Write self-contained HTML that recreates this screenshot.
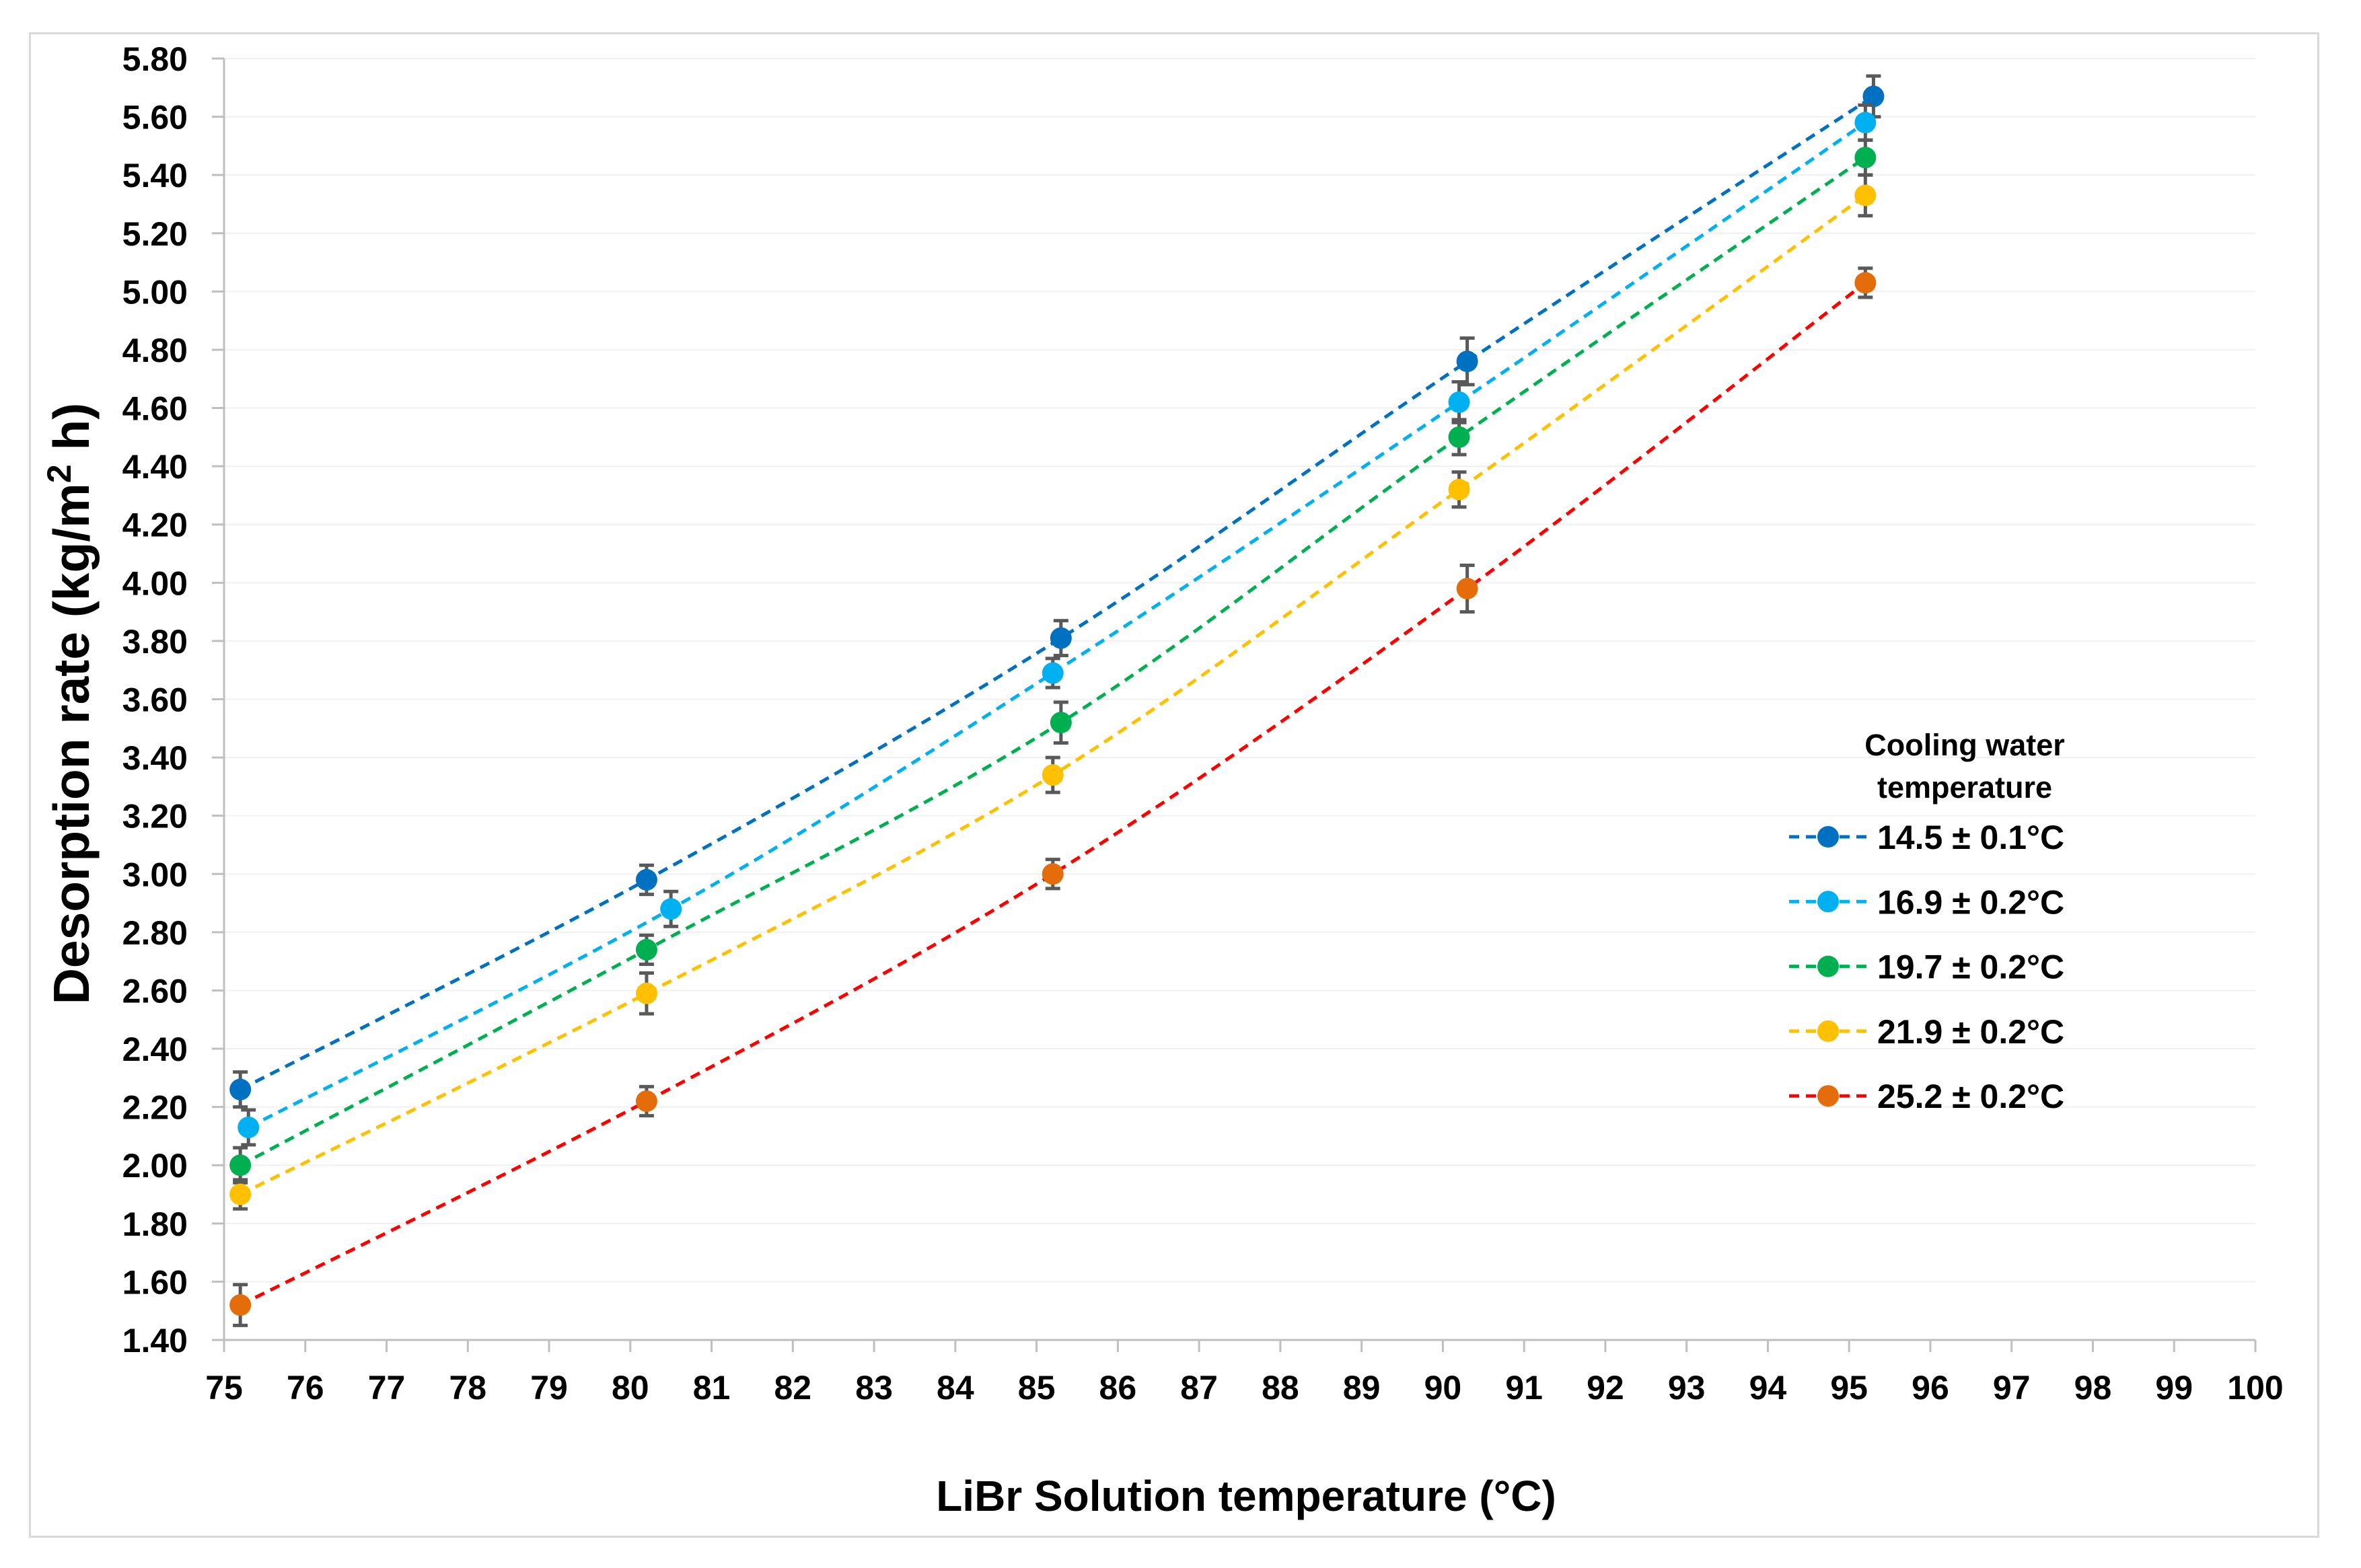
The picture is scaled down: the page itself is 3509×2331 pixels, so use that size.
<!DOCTYPE html>
<html><head><meta charset="utf-8"><style>
html,body{margin:0;padding:0;background:#fff;}
svg{display:block;font-family:"Liberation Sans",sans-serif;font-weight:bold;}
</style></head><body>
<svg id="chart" width="3509" height="2331" viewBox="0 0 3509 2331" xmlns="http://www.w3.org/2000/svg">
<rect x="44.5" y="49.5" width="3401" height="2235" fill="#fff" stroke="#d9d9d9" stroke-width="3"/>
<g id="grid"></g>
<g id="axes"></g>
<g id="series"></g>
<text transform="translate(132,1046) rotate(-90)" text-anchor="middle" font-size="75">Desorption rate (kg/m<tspan font-size="50" dy="-27">2</tspan><tspan dy="27"> h)</tspan></text>
<text x="1852" y="2246" text-anchor="middle" font-size="64">LiBr Solution temperature (°C)</text>
<g id="legend">
<text x="2920" y="1123" text-anchor="middle" font-size="45">Cooling water</text>
<text x="2920" y="1186" text-anchor="middle" font-size="45">temperature</text>
</g>
</svg>
<script>
const xTicks = [75,76,77,78,79,80,81,82,83,84,85,86,87,88,89,90,91,92,93,94,95,96,97,98,99,100];
const yTicks = [1.40,1.60,1.80,2.00,2.20,2.40,2.60,2.80,3.00,3.20,3.40,3.60,3.80,4.00,4.20,4.40,4.60,4.80,5.00,5.20,5.40,5.60,5.80];
const seriesNames = ["14.5 ± 0.1°C","16.9 ± 0.2°C","19.7 ± 0.2°C","21.9 ± 0.2°C","25.2 ± 0.2°C"];
const x1 = [75.2,80.2,85.3,90.3,95.3];
const y1 = [2.26,2.98,3.81,4.76,5.67];
const e1 = [0.06,0.05,0.06,0.08,0.07];
const x2 = [75.3,80.5,85.2,90.2,95.2];
const y2 = [2.13,2.88,3.69,4.62,5.58];
const e2 = [0.06,0.06,0.05,0.07,0.06];
const x3 = [75.2,80.2,85.3,90.2,95.2];
const y3 = [2.00,2.74,3.52,4.50,5.46];
const e3 = [0.06,0.05,0.07,0.06,0.06];
const x4 = [75.2,80.2,85.2,90.2,95.2];
const y4 = [1.90,2.59,3.34,4.32,5.33];
const e4 = [0.05,0.07,0.06,0.06,0.07];
const x5 = [75.2,80.2,85.2,90.3,95.2];
const y5 = [1.52,2.22,3.00,3.98,5.03];
const e5 = [0.07,0.05,0.05,0.08,0.05];
const lineColors = ["#0070C0","#00B0F0","#00B050","#FFC000","#FF0000"];
const markerColors = ["#0070C0","#00B0F0","#00B050","#FFC000","#E46C0A"];

const NS="http://www.w3.org/2000/svg";
const X0=333, X1=3352, Y0=1992, Y1=87;
const xs=v=>X0+(v-75)/25*(X1-X0);
const ys=v=>Y0-(v-1.4)/4.4*(Y0-Y1);
function mk(tag,attrs,parent){const e=document.createElementNS(NS,tag);for(const k in attrs)e.setAttribute(k,attrs[k]);parent.appendChild(e);return e;}
const grid=document.getElementById('grid'),axes=document.getElementById('axes'),ser=document.getElementById('series'),leg=document.getElementById('legend');
yTicks.forEach(t=>{
  const y=ys(t);
  if(t>1.41){const g=mk('line',{x1:X0,x2:X1,y1:y,y2:y,stroke:'#f0f0f0','stroke-width':2},grid);
  
  }
  const tk=mk('line',{x1:X0-18,x2:X0,y1:y,y2:y,stroke:'#bfbfbf','stroke-width':3},axes);
  
  
  const tx=mk('text',{x:279,y:y+18,'text-anchor':'end','font-size':50},axes);
  
  
  tx.textContent=t.toFixed(2);
});
xTicks.forEach(t=>{
  const x=xs(t);
  const tk=mk('line',{x1:x,x2:x,y1:Y0,y2:Y0+18,stroke:'#bfbfbf','stroke-width':3},axes);
  
  
  const tx=mk('text',{x:x,y:2080,'text-anchor':'middle','font-size':50},axes);
  
  
  tx.textContent=t;
});
const ya=mk('line',{x1:X0,x2:X0,y1:Y1,y2:Y0,stroke:'#bfbfbf','stroke-width':3},axes);


const xa=mk('line',{x1:X0,x2:X1,y1:Y0,y2:Y0,stroke:'#bfbfbf','stroke-width':3},axes);



function spline(px,py){
  const p=px.map((v,i)=>[xs(v),ys(py[i])]);
  let d=`M${p[0][0]},${p[0][1]}`;
  for(let i=0;i<p.length-1;i++){
    const a=p[i-1]||p[i],b=p[i],c=p[i+1],e=p[i+2]||c;
    const c1=[b[0]+(c[0]-a[0])/6,b[1]+(c[1]-a[1])/6],c2=[c[0]-(e[0]-b[0])/6,c[1]-(e[1]-b[1])/6];
    d+=` C${c1[0]},${c1[1]} ${c2[0]},${c2[1]} ${c[0]},${c[1]}`;
  }
  return d;
}
const allX=[x1,x2,x3,x4,x5],allY=[y1,y2,y3,y4,y5],allE=[e1,e2,e3,e4,e5];
allX.forEach((xv,s)=>{
  const g=mk('g',{},ser);
  
  
  const ln=mk('path',{d:spline(xv,allY[s]),fill:'none',stroke:lineColors[s],'stroke-width':5,'stroke-dasharray':'15 10'},g);
  
  
  xv.forEach((v,i)=>{
    const cx=xs(v),cy=ys(allY[s][i]),yt=ys(allY[s][i]+allE[s][i]),yb=ys(allY[s][i]-allE[s][i]);
    const eb=mk('path',{d:`M${cx},${yt}V${yb}M${cx-11},${yt}H${cx+11}M${cx-11},${yb}H${cx+11}`,stroke:'#595959','stroke-width':5,fill:'none'},g);
    
    
    const c=mk('circle',{cx:cx,cy:cy,r:16,fill:markerColors[s]},g);
    
    
  });
  const ly=1244+s*96.3;
  const le=mk('g',{},leg);
  
  
  mk('line',{x1:2659,x2:2776,y1:ly,y2:ly,stroke:lineColors[s],'stroke-width':5,'stroke-dasharray':'15 10'},le);
  mk('circle',{cx:2717,cy:ly,r:16,fill:markerColors[s]},le);
  const t=mk('text',{x:2790,y:ly+18,'font-size':50},le);
  t.textContent=seriesNames[s];
});
</script>
</body></html>
